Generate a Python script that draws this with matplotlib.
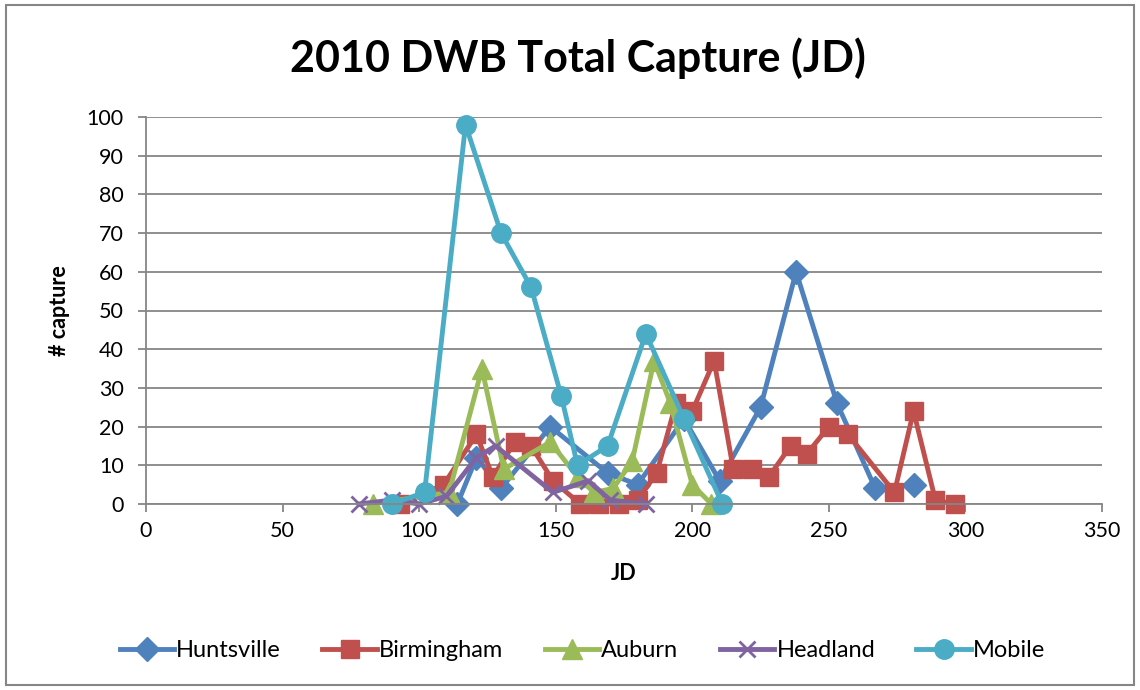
import matplotlib
matplotlib.use("Agg")
import matplotlib.pyplot as plt
import numpy as np
from matplotlib.patches import Rectangle

plt.rcParams['font.family'] = ['Lato', 'DejaVu Sans']

# Julian day / capture counts per trap site
hunt_jd = [114, 121, 130, 148, 169, 180, 197, 210, 225, 238, 253, 267, np.nan, 281]
hunt_n = [0, 12, 4, 20, 8, 5, 22, 6, 25, 60, 26, 4, np.nan, 5]

birm_jd = [93, 109, 121, 127, 135, 141, 149, 159, 166, 173, 180, 187, 194, 200,
           208, 215, 222, 228, 236, 242, 250, 257, 274, 281, 289, 296]
birm_n = [0, 5, 18, 7, 16, 15, 6, 0, 0, 0, 1, 8, 26, 24,
          37, 9, 9, 7, 15, 13, 20, 18, 3, 24, 1, 0]

aub_jd = [83, 111, 123, 131, 148, 158, 164, 171, 178, 186, 192, 200, 207]
aub_n = [0, 3, 35, 9, 16, 7, 3, 4, 11, 37, 26, 5, 0]

head_jd = [78, 90, 100, 110, 121, 128, 149, 162, 170, 183]
head_n = [0, 1, 0, 2, 12, 15, 3, 6, 1, 0]

mob_jd = [90, 102, 117, 130, 141, 152, 158, 169, 183, 197, 211]
mob_n = [0, 3, 98, 70, 56, 28, 10, 15, 44, 22, 0]

series = [
    ("Huntsville", hunt_jd, hunt_n, "#4F81BD", "D", 12),
    ("Birmingham", birm_jd, birm_n, "#C0504D", "s", 13),
    ("Auburn", aub_jd, aub_n, "#9BBB59", "^", 14),
    ("Headland", head_jd, head_n, "#8064A2", "x", 12),
    ("Mobile", mob_jd, mob_n, "#4BACC6", "o", 14),
]

fig = plt.figure(figsize=(11.4, 6.9), dpi=100)
ax = fig.add_axes([0.128, 0.2696, 0.8387, 0.5608])

for name, xs, ys, col, mk, ms in series:
    ax.plot(xs, ys, color=col, lw=3.5, marker=mk, markersize=ms,
            markerfacecolor=col, markeredgecolor=col,
            markeredgewidth=2 if mk == "x" else 1, label=name, clip_on=False)

ax.set_xlim(0, 350)
ax.set_ylim(0, 100)
ax.set_xticks(range(0, 351, 50))
ax.set_yticks(range(0, 101, 10))
ax.yaxis.grid(True, color="#868686", lw=1.3)
ax.set_axisbelow(True)
for s in ["top", "right"]:
    ax.spines[s].set_visible(False)
for s in ["left", "bottom"]:
    ax.spines[s].set_color("#868686")
    ax.spines[s].set_linewidth(1.3)
ax.tick_params(axis="both", colors="#868686", length=6, width=1.3,
               labelcolor="black", labelsize=15.5, pad=6)
ax.tick_params(axis="y", pad=10)

fig.text(0.507, 0.916, "2010 DWB Total Capture (JD)", fontsize=31,
         fontweight="bold", ha="center", va="center")
ax.set_xlabel("JD", fontsize=15.5, fontweight="bold", labelpad=16)
ax.set_ylabel("# capture", fontsize=15.5, fontweight="bold", labelpad=12)

fig.legend(loc="center", bbox_to_anchor=(0.511, 0.057), ncol=5, frameon=False,
           fontsize=17, handlelength=2.3, handletextpad=0.1, columnspacing=1.75)

fig.add_artist(Rectangle((0.005, 0.007), 0.99, 0.986, transform=fig.transFigure,
                         fill=False, edgecolor="#868686", lw=1.5))

fig.savefig("out.png", dpi=100)
